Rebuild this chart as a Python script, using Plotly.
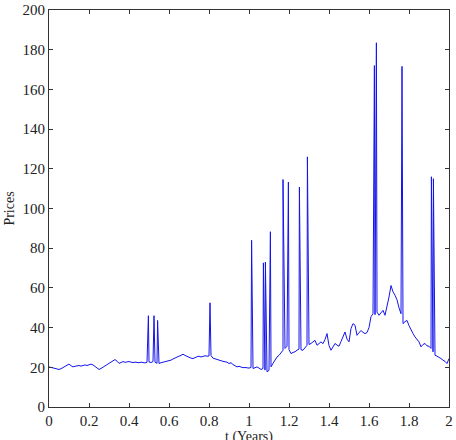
import plotly.graph_objects as go

# Base price path, sampled every 0.01 years from t = 0.00 to t = 2.00
base_t0 = 0.0
base_dt = 0.01
base_prices = [
    20.2, 20.0, 19.8, 19.6, 19.2, 18.9, 19.3, 19.8, 20.4, 21.0,
    21.6, 20.8, 20.2, 20.5, 20.7, 20.9, 20.6, 21.0, 21.2, 20.9,
    21.3, 21.6, 21.2, 20.4, 19.3, 18.9, 19.4, 20.0, 20.6, 21.2,
    22.2, 22.6, 23.2, 23.9, 23.1, 22.0, 22.4, 22.9, 22.5, 22.7,
    22.9, 22.6, 22.4, 22.6, 22.5, 22.3, 22.6, 22.4, 22.2, 22.5,
    22.7, 22.4, 22.9, 22.6, 22.0, 21.9, 22.3, 22.5, 22.8, 23.0,
    23.2, 23.6, 24.2, 24.8, 25.3, 25.6, 26.0, 26.6, 26.0, 25.4,
    24.9, 24.6, 24.4, 25.0, 25.3, 25.6, 25.2, 25.5, 25.8, 25.6,
    25.7, 25.9, 24.6, 24.2, 23.9, 23.6, 23.4, 23.0, 22.8, 22.6,
    21.9, 22.3, 21.4, 20.9, 20.2, 20.5, 20.1, 19.8, 19.9, 19.7,
    19.6, 19.9, 19.4, 19.8, 20.2, 19.6, 18.9, 19.4, 18.6, 17.7,
    18.5, 20.2, 22.0, 23.6, 25.2, 26.0, 27.2, 28.6, 29.5, 30.6,
    28.9, 26.9, 27.5, 27.8, 28.6, 29.2, 28.8, 28.6, 29.8, 31.1,
    31.5, 32.0, 32.8, 33.6, 31.1, 32.0, 32.8, 31.9, 34.0, 37.0,
    31.0, 28.6, 30.4, 32.0, 31.2, 30.6, 33.0, 35.6, 37.8, 34.2,
    32.8, 39.5, 42.0, 41.2, 36.1, 37.5, 38.5, 37.6, 37.0, 37.5,
    40.0, 45.5, 47.0, 46.5, 47.8, 46.2, 47.5, 48.7, 46.2, 50.5,
    55.4, 61.2, 58.0, 56.3, 54.0, 50.0, 47.0, 42.0, 43.0, 43.6,
    41.0, 38.5, 37.0, 35.3, 34.0, 32.8, 30.3, 31.5, 32.0, 30.8,
    30.6, 29.5, 27.8, 26.1, 25.6, 25.2, 24.4, 23.6, 23.0, 21.9,
    24.4,
]

# Price spikes (time in years, price)
spike_t = [0.497, 0.525, 0.543, 0.805, 1.013, 1.072, 1.082, 1.107, 1.170,
           1.197, 1.252, 1.292, 1.627, 1.637, 1.765, 1.912, 1.922]
spike_prices = [46.0, 46.0, 43.6, 52.5, 84.0, 72.6, 73.0, 88.3, 114.6,
                113.3, 110.8, 126.0, 172.0, 183.5, 171.6, 116.0, 115.0]

x_ticks = [0, 0.2, 0.4, 0.6, 0.8, 1, 1.2, 1.4, 1.6, 1.8, 2]
x_tick_labels = ["0", "0.2", "0.4", "0.6", "0.8", "1", "1.2", "1.4", "1.6", "1.8", "2"]
y_ticks = [0, 20, 40, 60, 80, 100, 120, 140, 160, 180, 200]

# merge base path and spikes in time order
base_t = [round(base_t0 + i * base_dt, 4) for i in range(len(base_prices))]
pts = sorted(list(zip(base_t, base_prices)) + list(zip(spike_t, spike_prices)))
t_all = [p[0] for p in pts]
p_all = [p[1] for p in pts]

fig = go.Figure()
fig.add_trace(go.Scatter(x=t_all, y=p_all, mode="lines",
                         line=dict(color="rgb(20,20,235)", width=1)))

fam = "Liberation Serif"
font = dict(family=fam, size=15, color="#222")
fig.update_layout(
    width=456, height=440,
    margin=dict(l=49, r=7, t=10, b=33),
    paper_bgcolor="white", plot_bgcolor="white",
    showlegend=False,
    font=font,
    xaxis=dict(range=[0, 2], tickvals=x_ticks, ticktext=x_tick_labels,
               ticks="inside", ticklen=4, tickcolor="#333", showgrid=False,
               zeroline=False, showline=True, linecolor="#333", linewidth=1,
               mirror="ticks", automargin=False, tickfont=font),
    yaxis=dict(range=[0, 200], tickvals=y_ticks,
               ticks="inside", ticklen=4, tickcolor="#333", showgrid=False,
               zeroline=False, showline=True, linecolor="#333", linewidth=1,
               mirror="ticks", automargin=False, tickfont=font,
               title=dict(text="Prices", font=dict(family=fam, size=14, color="#222"), standoff=4)),
    annotations=[dict(text="t (Years)", xref="paper", yref="paper", x=0.5, y=-0.052,
                      xanchor="center", yanchor="top", showarrow=False,
                      borderpad=0, font=dict(family=fam, size=14, color="#222"))],
)
fig.write_html("out.html")
